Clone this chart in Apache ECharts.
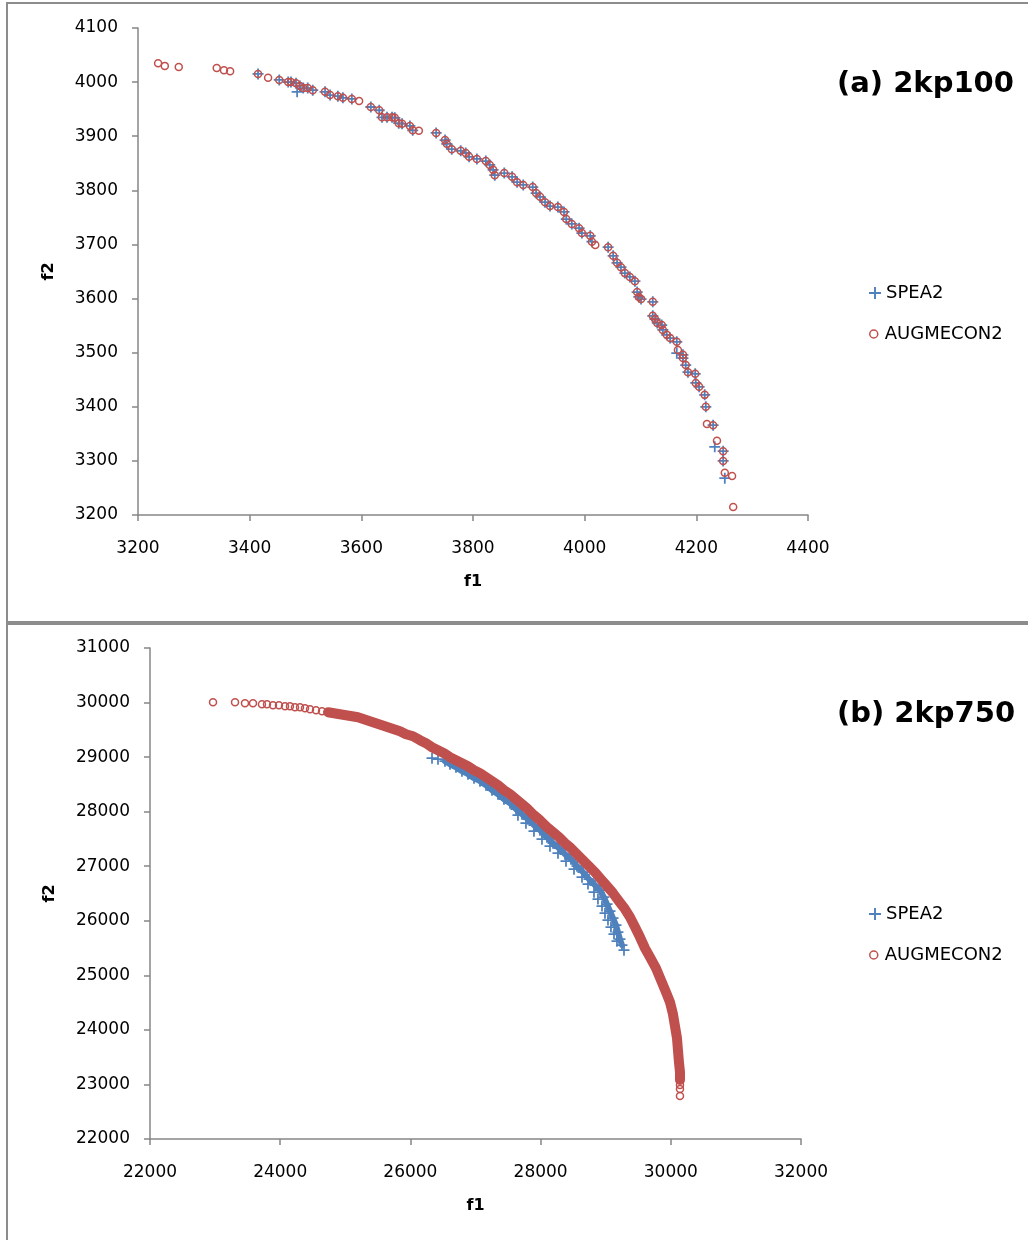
<!DOCTYPE html>
<html>
<head>
    <meta charset="UTF-8">
    <title>2kp100 / 2kp750 fronts</title>
    <script src="https://cdn.jsdelivr.net/npm/echarts@6/dist/echarts.min.js"></script>
    <style>
        body { margin: 0; background: #fff; }
        #chart { width: 1028px; height: 1240px; }
    </style>
</head>
<body>
    <div id="chart"></div>
    <script>
        // (a) 2kp100 : [f1, f2]
        var spea2A = [
            [3415,4015],[3453,4004],[3469,4000],[3474,4000],[3483,3998],[3485,3982],[3490,3993],[3496,3989],
            [3504,3989],[3513,3985],[3535,3982],[3544,3976],[3558,3974],[3567,3971],[3583,3969],[3617,3954],
            [3632,3948],[3637,3935],[3646,3935],[3655,3935],[3660,3934],[3667,3924],[3673,3923],[3687,3919],
            [3692,3911],[3734,3906],[3750,3893],[3753,3886],[3762,3876],[3778,3873],[3787,3869],[3793,3862],
            [3807,3858],[3823,3854],[3830,3847],[3836,3838],[3839,3828],[3856,3832],[3870,3825],[3879,3815],
            [3890,3810],[3907,3806],[3913,3795],[3920,3788],[3929,3778],[3938,3771],[3952,3769],[3963,3760],
            [3967,3747],[3977,3738],[3990,3730],[3995,3721],[4010,3716],[4013,3705],[4042,3695],[4051,3679],
            [4058,3666],[4065,3658],[4072,3647],[4081,3640],[4090,3632],[4094,3612],[4097,3603],[4101,3599],
            [4122,3594],[4122,3568],[4126,3562],[4130,3555],[4138,3551],[4140,3542],[4147,3533],[4153,3527],
            [4165,3520],[4165,3499],[4176,3496],[4176,3490],[4181,3477],[4185,3464],[4198,3461],[4199,3444],
            [4205,3437],[4215,3422],[4217,3400],[4230,3366],[4233,3326],[4248,3318],[4248,3300],[4251,3268]
        ];
        var augmeconA = [
            [3236,4035],[3248,4030],[3273,4028],[3341,4026],[3354,4022],[3365,4020],[3415,4015],[3433,4008],
            [3453,4004],[3469,4000],[3474,4000],[3483,3998],[3490,3993],[3496,3989],[3504,3989],[3513,3985],
            [3535,3982],[3544,3976],[3558,3974],[3567,3971],[3583,3969],[3596,3965],[3617,3954],[3632,3948],
            [3637,3935],[3646,3935],[3655,3935],[3660,3934],[3667,3924],[3673,3923],[3687,3919],[3692,3911],
            [3703,3910],[3734,3906],[3750,3893],[3753,3886],[3762,3876],[3778,3873],[3787,3869],[3793,3862],
            [3807,3858],[3823,3854],[3830,3847],[3836,3838],[3839,3828],[3856,3832],[3870,3825],[3879,3815],
            [3890,3810],[3907,3806],[3913,3795],[3920,3788],[3929,3778],[3938,3771],[3952,3769],[3963,3760],
            [3967,3747],[3977,3738],[3990,3730],[3995,3721],[4010,3716],[4013,3705],[4019,3699],[4042,3695],
            [4051,3679],[4058,3666],[4065,3658],[4072,3647],[4081,3640],[4090,3632],[4094,3612],[4097,3603],
            [4101,3599],[4122,3594],[4122,3568],[4126,3562],[4130,3555],[4138,3551],[4140,3542],[4147,3533],
            [4153,3527],[4165,3520],[4167,3505],[4176,3496],[4176,3490],[4181,3477],[4185,3464],[4198,3461],
            [4199,3444],[4205,3437],[4215,3422],[4217,3400],[4219,3368],[4230,3366],[4237,3337],[4248,3318],
            [4248,3300],[4251,3278],[4264,3272],[4266,3215]
        ];

        // (b) 2kp750 : [f1, f2]
        var spea2B = [
            [26332,28980],[26424,28962],[26531,28925],[26608,28870],[26700,28815],[26792,28742],[26884,28687],
            [26977,28614],[27069,28559],[27161,28485],[27253,28394],[27345,28320],[27437,28229],[27530,28156],
            [27622,28046],[27714,27954],[27806,27862],[27898,27752],[27990,27661],[28098,27533],[28190,27423],
            [28282,27331],[28374,27221],[28467,27130],[28559,27001],[28651,26891],[28743,26763],[28835,26653],
            [28912,26562],[28973,26433],[29020,26305],[29066,26177],[29112,26049],[29158,25920],[29188,25792],
            [29219,25664],[29250,25554],[29281,25462],
            [27652,27936],[27775,27789],[27898,27643],[28021,27496],[28144,27368],[28267,27240],[28390,27093],
            [28513,26946],[28636,26800],[28728,26672],[28820,26525],[28881,26397],[28943,26269],[28989,26140],
            [29035,26012],[29081,25884],[29127,25756],[29173,25627]
        ];
        var augmeconB = [
            [22968,30006],[23306,30006],[23459,29988],[23582,29988],[23720,29969],[23797,29969],[23889,29951],
            [23981,29951],[24074,29933],[24150,29933],[24227,29914],[24304,29914],[24381,29896],[24458,29878],
            [24550,29859],[24642,29841],[24734,29823],[24826,29804],[24918,29786],[25011,29768],[25103,29749],
            [25195,29731],[25287,29694],[25379,29658],[25471,29621],[25564,29584],[25656,29548],[25748,29511],
            [25840,29475],[25932,29420],[26040,29383],[26147,29310],[26239,29255],[26332,29181],[26424,29126],
            [26516,29072],[26608,28998],[26700,28943],[26792,28888],[26884,28833],[26977,28760],[27069,28705],
            [27161,28632],[27253,28559],[27345,28485],[27437,28394],[27530,28320],[27622,28229],[27714,28137],
            [27806,28046],[27898,27936],[27990,27844],[28098,27716],[28190,27624],[28282,27533],[28374,27423],
            [28467,27331],[28559,27221],[28651,27111],[28743,27001],[28835,26891],[28927,26763],[29020,26635],
            [29112,26507],[29204,26360],[29296,26214],[29373,26067],[29450,25884],[29526,25701],[29603,25499],
            [29680,25334],[29772,25133],[29849,24913],[29926,24693],[29987,24510],[30033,24290],[30064,24070],
            [30095,23850],[30110,23630],[30125,23411],[30141,23227],[30141,23081],[30141,22989],[30141,22916],
            [30141,22788]
        ];
        // dense stretches of the 2kp750 fronts merge into solid bands
        var speaBand = spea2B.slice(2, 37);
        var augmeconBand = augmeconB.slice(16, augmeconB.length - 3);

        var BLUE = '#4F81BD', RED = '#C0504D', AXIS = '#868686';
        var FONT = 'DejaVu Sans';
        var PLUS = 'path://M4.2,0H5.8V4.2H10V5.8H5.8V10H4.2V5.8H0V4.2H4.2Z';

        var chart = echarts.init(document.getElementById('chart'), null, {renderer: 'canvas'});

        function xAxis(idx, min, max, step) {
            return {
                type: 'value', gridIndex: idx, min: min, max: max, interval: step,
                name: 'f1', nameLocation: 'middle', nameGap: 59,
                nameTextStyle: {fontFamily: FONT, fontSize: 16, fontWeight: 'bold', color: '#000'},
                axisLine: {lineStyle: {color: AXIS, width: 1.5}},
                axisTick: {length: 6, lineStyle: {color: AXIS, width: 1.5}},
                axisLabel: {margin: 25, fontFamily: FONT, fontSize: 17, color: '#000',
                    formatter: function (v) { return String(v); }},
                splitLine: {show: false}
            };
        }
        function yAxis(idx, min, max, step, gap) {
            return {
                type: 'value', gridIndex: idx, min: min, max: max, interval: step,
                name: 'f2', nameLocation: 'middle', nameGap: gap,
                nameTextStyle: {fontFamily: FONT, fontSize: 16, fontWeight: 'bold', color: '#000'},
                axisLine: {show: true, lineStyle: {color: AXIS, width: 1.5}},
                axisTick: {show: true, length: 6, lineStyle: {color: AXIS, width: 1.5}},
                axisLabel: {margin: 20, fontFamily: FONT, fontSize: 17, color: '#000',
                    formatter: function (v) { return String(v); }},
                splitLine: {show: false}
            };
        }
        function legends(top) {
            return [
                {data: [{name: 'SPEA2', icon: PLUS, itemStyle: {color: BLUE, borderWidth: 0}}],
                 left: 864, top: top, itemWidth: 12, itemHeight: 12,
                 textStyle: {fontFamily: FONT, fontSize: 18, color: '#000'}},
                {data: [{name: 'AUGMECON2', icon: 'circle',
                         itemStyle: {color: 'rgba(0,0,0,0)', borderColor: RED, borderWidth: 1.5}}],
                 left: 864, top: top + 41, itemWidth: 12, itemHeight: 8,
                 textStyle: {fontFamily: FONT, fontSize: 18, color: '#000'}}
            ];
        }
        function spea(idx, data) {
            return {name: 'SPEA2', type: 'scatter', xAxisIndex: idx, yAxisIndex: idx, data: data,
                symbol: PLUS, symbolSize: 11, itemStyle: {color: BLUE, opacity: 1}};
        }
        function augm(idx, data) {
            return {name: 'AUGMECON2', type: 'scatter', xAxisIndex: idx, yAxisIndex: idx, data: data,
                symbol: 'circle', symbolSize: 7,
                itemStyle: {color: 'rgba(0,0,0,0)', borderColor: RED, borderWidth: 1.5, opacity: 1}};
        }
        function band(name, data, color, width) {
            return {name: name, type: 'line', xAxisIndex: 1, yAxisIndex: 1, data: data,
                symbol: 'none', silent: true,
                lineStyle: {color: color, width: width, cap: 'round', join: 'round'}};
        }

        chart.setOption({
            animation: false,
            backgroundColor: '#fff',
            grid: [
                {left: 138, top: 28, width: 670, height: 487},
                {left: 150, top: 648, width: 651, height: 491}
            ],
            xAxis: [xAxis(0, 3200, 4400, 200), xAxis(1, 22000, 32000, 2000)],
            yAxis: [yAxis(0, 3200, 4100, 100, 81), yAxis(1, 22000, 31000, 1000, 92)],
            legend: legends(279).concat(legends(900)),
            title: [
                {text: '(a) 2kp100', left: 832, top: 65,
                 textStyle: {fontFamily: FONT, fontSize: 29, fontWeight: 'bold', color: '#000'}},
                {text: '(b) 2kp750', left: 832, top: 695,
                 textStyle: {fontFamily: FONT, fontSize: 29, fontWeight: 'bold', color: '#000'}}
            ],
            graphic: [
                {type: 'rect', shape: {x: 7, y: 3, width: 1040, height: 619},
                 style: {fill: 'none', stroke: '#8c8c8c', lineWidth: 2}, silent: true},
                {type: 'rect', shape: {x: 7, y: 624, width: 1040, height: 640},
                 style: {fill: 'none', stroke: '#8c8c8c', lineWidth: 2}, silent: true}
            ],
            series: [
                spea(0, spea2A),
                augm(0, augmeconA),
                band('SPEA2 band', speaBand, BLUE, 6),
                spea(1, spea2B),
                band('AUGMECON2 band', augmeconBand, RED, 10),
                augm(1, augmeconB)
            ]
        });
    </script>
</body>
</html>
